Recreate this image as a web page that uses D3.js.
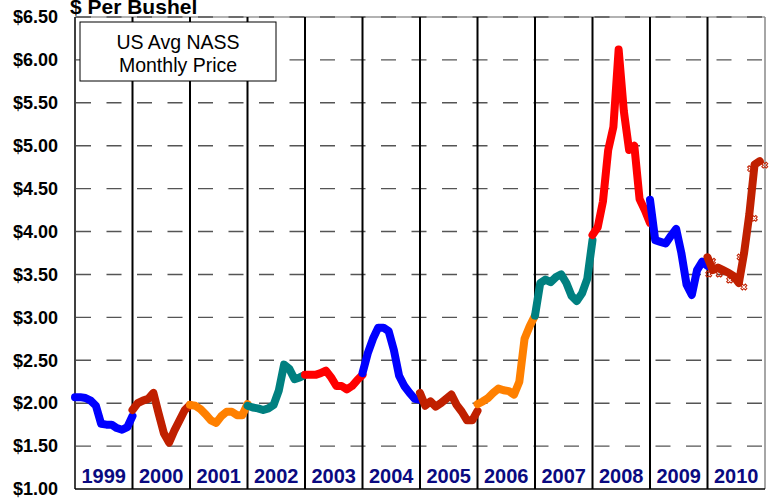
<!DOCTYPE html>
<html>
<head>
<meta charset="utf-8">
<script src="https://cdn.jsdelivr.net/npm/d3@7"></script>
<style>
  body { margin: 0; background: #fff; }
  svg { display: block; font-family: "Liberation Sans", Arial, sans-serif; }
</style>
</head>
<body>
<script>
// monthly prices, $ per bushel
var years = [1999, 2000, 2001, 2002, 2003, 2004, 2005, 2006, 2007, 2008, 2009, 2010];
var colors = ['#0000ff', '#c02000', '#ff8000', '#008080', '#ff0000', '#0000ff',
              '#c02000', '#ff8000', '#008080', '#ff0000', '#0000ff', '#c02000'];

var p1999 = [2.07, 2.07, 2.06, 2.03, 1.97, 1.76, 1.75, 1.75, 1.71, 1.69, 1.72, 1.85];
var p2000 = [1.92, 2.00, 2.03, 2.05, 2.12, 1.88, 1.65, 1.54, 1.68, 1.80, 1.92, 1.98];
var p2001 = [1.98, 1.97, 1.93, 1.87, 1.80, 1.77, 1.85, 1.90, 1.90, 1.86, 1.86, 1.99];
var p2002 = [1.97, 1.95, 1.94, 1.92, 1.94, 1.98, 2.15, 2.45, 2.40, 2.28, 2.30, 2.33];
var p2003 = [2.33, 2.33, 2.33, 2.35, 2.38, 2.30, 2.20, 2.20, 2.16, 2.20, 2.27, 2.33];
var p2004 = [2.35, 2.58, 2.75, 2.88, 2.88, 2.84, 2.62, 2.32, 2.20, 2.12, 2.05, 2.04];
var p2005 = [2.12, 1.97, 2.02, 1.96, 2.00, 2.05, 2.10, 1.98, 1.90, 1.80, 1.80, 1.91];
var p2006 = [1.99, 2.02, 2.06, 2.12, 2.17, 2.15, 2.14, 2.10, 2.25, 2.75, 2.90, 3.02];
var p2007 = [3.02, 3.40, 3.44, 3.41, 3.47, 3.50, 3.40, 3.25, 3.19, 3.28, 3.45, 3.90];
var p2008 = [3.96, 4.05, 4.35, 4.95, 5.22, 6.12, 5.40, 4.95, 5.00, 4.38, 4.25, 4.10];
var p2009 = [4.37, 3.90, 3.88, 3.86, 3.95, 4.03, 3.75, 3.38, 3.26, 3.55, 3.65, 3.60];
var p2010 = [3.70, 3.55, 3.58, 3.55, 3.52, 3.48, 3.40, 3.75, 4.20, 4.78, 4.82];

var prices = [p1999, p2000, p2001, p2002, p2003, p2004, p2005, p2006, p2007, p2008, p2009, p2010];
var yTicks = [1, 1.5, 2, 2.5, 3, 3.5, 4, 4.5, 5, 5.5, 6, 6.5];

var width = 775, height = 500;
var plotLeft = 75, plotRight = 765, plotTop = 17, plotBottom = 489;

var svg = d3.select('body').append('svg')
  .attr('width', width)
  .attr('height', height);

var x = d3.scaleLinear().domain([1999, 2011]).range([plotLeft, plotRight]);
var y = d3.scaleLinear().domain([1, 6.5]).range([plotBottom, plotTop]);

// frame (top / right are grey)
svg.append('line')
  .attr('x1', plotLeft).attr('x2', plotRight).attr('y1', plotTop).attr('y2', plotTop)
  .attr('stroke', '#999').attr('stroke-width', 1.5);
svg.append('line')
  .attr('x1', plotRight).attr('x2', plotRight).attr('y1', plotTop).attr('y2', plotBottom)
  .attr('stroke', '#888').attr('stroke-width', 1.5);

// dashed grid
svg.selectAll('.grid')
  .data(yTicks.filter(function(d) { return d > 1; }))
  .enter().append('line')
  .attr('class', 'grid')
  .attr('x1', plotLeft + 1).attr('x2', plotRight)
  .attr('y1', function(d) { return y(d); })
  .attr('y2', function(d) { return y(d); })
  .attr('stroke', '#555')
  .attr('stroke-width', 1.4)
  .attr('stroke-dasharray', '15,15.5');

// year separators
svg.selectAll('.sep')
  .data(years.slice(1))
  .enter().append('line')
  .attr('class', 'sep')
  .attr('x1', function(d) { return x(d); })
  .attr('x2', function(d) { return x(d); })
  .attr('y1', plotTop).attr('y2', plotBottom)
  .attr('stroke', '#000')
  .attr('stroke-width', 2);

// axes lines
svg.append('line')
  .attr('x1', plotLeft).attr('x2', plotLeft).attr('y1', plotTop).attr('y2', plotBottom)
  .attr('stroke', '#000').attr('stroke-width', 1.5);
svg.append('line')
  .attr('x1', plotLeft).attr('x2', plotRight).attr('y1', plotBottom).attr('y2', plotBottom)
  .attr('stroke', '#000').attr('stroke-width', 1.5);

// y tick labels
var yAxis = d3.axisLeft(y)
  .tickValues(yTicks)
  .tickSize(0)
  .tickPadding(17)
  .tickFormat(d3.format('$.2f'));

svg.append('g')
  .attr('transform', 'translate(' + plotLeft + ',0)')
  .call(yAxis)
  .call(function(g) { g.select('.domain').remove(); })
  .selectAll('text')
  .attr('font-family', '"Liberation Sans", Arial, sans-serif')
  .attr('font-size', 18)
  .attr('font-weight', 'bold')
  .attr('fill', '#000');

// year labels
svg.selectAll('.yr')
  .data(years)
  .enter().append('text')
  .attr('class', 'yr')
  .attr('x', function(d) { return (x(d) + x(d + 1)) / 2; })
  .attr('y', 483)
  .attr('text-anchor', 'middle')
  .attr('font-size', 20)
  .attr('font-weight', 'bold')
  .attr('fill', '#0a0a80')
  .text(function(d) { return d; });

// price lines, one per year
var line = d3.line()
  .x(function(d) { return x(d.t); })
  .y(function(d) { return y(d.v); })
  .curve(d3.curveLinear);

var series = years.map(function(yr, i) {
  return {
    year: yr,
    color: colors[i],
    pts: prices[i].map(function(v, j) { return { t: yr + j / 11, v: v }; })
  };
});

svg.selectAll('.price')
  .data(series)
  .enter().append('path')
  .attr('class', 'price')
  .attr('d', function(d) { return line(d.pts); })
  .attr('fill', 'none')
  .attr('stroke', function(d) { return d.color; })
  .attr('stroke-width', 8)
  .attr('stroke-linejoin', 'round')
  .attr('stroke-linecap', 'round');

// 2010 has little x markers scattered along it
var last = series[series.length - 1];
svg.selectAll('.mark')
  .data(last.pts)
  .enter().append('path')
  .attr('class', 'mark')
  .attr('transform', function(d, i) {
    var dx = (i % 2 === 0) ? 5 : -4;
    return 'translate(' + (x(d.t) + dx) + ',' + (y(d.v) + 4) + ') rotate(45)';
  })
  .attr('d', d3.symbol().type(d3.symbolCross).size(22))
  .attr('fill', 'none')
  .attr('stroke', '#c02000')
  .attr('stroke-width', 1);

// title
svg.append('text')
  .attr('x', 70)
  .attr('y', 14)
  .attr('font-size', 21)
  .attr('font-weight', 'bold')
  .attr('fill', '#000')
  .text('$ Per Bushel');

// legend box
var box = svg.append('g');
box.append('rect')
  .attr('x', 80).attr('y', 22)
  .attr('width', 196).attr('height', 59)
  .attr('fill', '#fff')
  .attr('stroke', '#000')
  .attr('stroke-width', 1);
box.append('text')
  .attr('x', 178).attr('y', 49)
  .attr('text-anchor', 'middle')
  .attr('font-size', 19.5)
  .text('US Avg NASS');
box.append('text')
  .attr('x', 178).attr('y', 72)
  .attr('text-anchor', 'middle')
  .attr('font-size', 19.5)
  .text('Monthly Price');
</script>
</body>
</html>
